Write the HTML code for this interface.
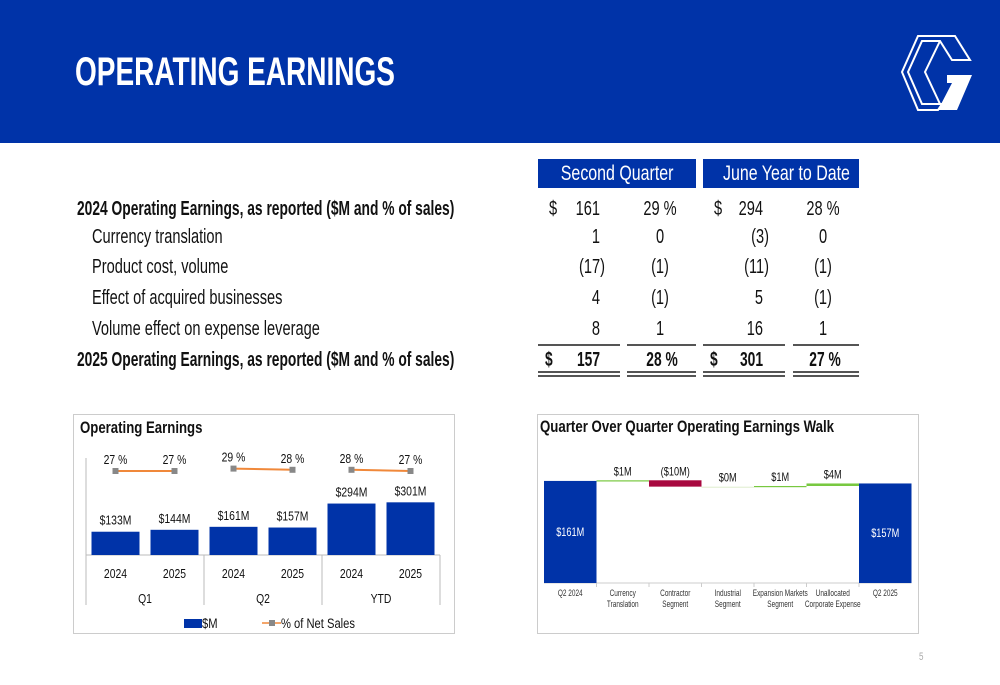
<!DOCTYPE html>
<html><head><meta charset="utf-8">
<style>
*{margin:0;padding:0;box-sizing:border-box}
body{width:1000px;height:685px;background:#fff;position:relative;overflow:hidden;font-family:"Liberation Sans",sans-serif;color:#111}
.hdr{position:absolute;left:0;top:0;width:1000px;height:143px;background:#0033a8}
.title{position:absolute;left:75px;top:50px;font-size:40px;font-weight:bold;color:#fff;transform:scaleX(0.70);transform-origin:left;white-space:nowrap}
.t{position:absolute;font-size:20px;white-space:nowrap;line-height:20px;transform:scaleX(.73);transform-origin:left}
.b{font-weight:bold;transform:scaleX(.69)}
.r{text-align:right;transform-origin:right}
.c{text-align:center;transform-origin:center}
.hbox{position:absolute;top:159px;height:29px;background:#0033a8;color:#fff;font-size:21px;text-align:center;line-height:29px;overflow:hidden;white-space:nowrap}
.hbox span{display:inline-block;transform:scaleX(.76)}
.ln{position:absolute;height:2px;background:#555}
.box{position:absolute;border:1px solid #ccc}
</style></head><body>
<div class="hdr"></div>
<div class="title">OPERATING EARNINGS</div>
<svg style="position:absolute;left:900px;top:33px" width="75" height="78" viewBox="0 0 75 78">
<g fill="none" stroke="#fff" stroke-width="2">
<polygon points="18,3 55,3 70,27 52,27 40,8 22,8 8,39 22,71 42,71 38,77 18,77 2,39"/>
<polyline points="40,8 25,39 40,71"/>
</g>
<polygon points="47,42 72,42 57,77 38,77 52,50 47,50" fill="#fff"/>
</svg>

<div class="hbox" style="left:538px;width:158px"><span>Second Quarter</span></div>
<div class="hbox" style="left:703px;width:156px"><span>June Year to Date</span></div>

<div>
<div class="t b" style="left:77px;top:199px">2024 Operating Earnings, as reported ($M and % of sales)</div>
<div class="t" style="left:92px;top:227px">Currency translation</div>
<div class="t" style="left:92px;top:257px">Product cost, volume</div>
<div class="t" style="left:92px;top:288px">Effect of acquired businesses</div>
<div class="t" style="left:92px;top:319px">Volume effect on expense leverage</div>
<div class="t b" style="left:77px;top:350px">2025 Operating Earnings, as reported ($M and % of sales)</div>

<div class="t" style="left:549px;top:199px">$</div>
<div class="t" style="left:714px;top:199px">$</div>
<div class="t b" style="left:545px;top:350px">$</div>
<div class="t b" style="left:710px;top:350px">$</div>

<div class="t r" style="left:540px;width:60px;top:199px">161</div>
<div class="t r" style="left:540px;width:60px;top:227px">1</div>
<div class="t r" style="left:540px;width:65px;top:257px">(17)</div>
<div class="t r" style="left:540px;width:60px;top:288px">4</div>
<div class="t r" style="left:540px;width:60px;top:319px">8</div>
<div class="t r b" style="left:540px;width:60px;top:350px">157</div>

<div class="t c" style="left:630px;width:60px;top:199px">29 %</div>
<div class="t c" style="left:630px;width:60px;top:227px">0</div>
<div class="t c" style="left:630px;width:60px;top:257px">(1)</div>
<div class="t c" style="left:630px;width:60px;top:288px">(1)</div>
<div class="t c" style="left:630px;width:60px;top:319px">1</div>
<div class="t c b" style="left:632px;width:60px;top:350px">28 %</div>

<div class="t r" style="left:700px;width:63px;top:199px">294</div>
<div class="t r" style="left:700px;width:69px;top:227px">(3)</div>
<div class="t r" style="left:700px;width:69px;top:257px">(11)</div>
<div class="t r" style="left:700px;width:63px;top:288px">5</div>
<div class="t r" style="left:700px;width:63px;top:319px">16</div>
<div class="t r b" style="left:700px;width:63px;top:350px">301</div>

<div class="t c" style="left:793px;width:60px;top:199px">28 %</div>
<div class="t c" style="left:793px;width:60px;top:227px">0</div>
<div class="t c" style="left:793px;width:60px;top:257px">(1)</div>
<div class="t c" style="left:793px;width:60px;top:288px">(1)</div>
<div class="t c" style="left:793px;width:60px;top:319px">1</div>
<div class="t c b" style="left:795px;width:60px;top:350px">27 %</div>

<div class="ln" style="left:538px;width:82px;top:344px"></div>
<div class="ln" style="left:627px;width:69px;top:344px"></div>
<div class="ln" style="left:703px;width:82px;top:344px"></div>
<div class="ln" style="left:793px;width:66px;top:344px"></div>
<div class="ln" style="left:538px;width:82px;top:371px"></div>
<div class="ln" style="left:627px;width:69px;top:371px"></div>
<div class="ln" style="left:703px;width:82px;top:371px"></div>
<div class="ln" style="left:793px;width:66px;top:371px"></div>
<div class="ln" style="left:538px;width:82px;top:375px"></div>
<div class="ln" style="left:627px;width:69px;top:375px"></div>
<div class="ln" style="left:703px;width:82px;top:375px"></div>
<div class="ln" style="left:793px;width:66px;top:375px"></div>
</div>

<div class="box" style="left:73px;top:414px;width:382px;height:220px"></div>
<svg id="c1" style="position:absolute;left:0;top:0" width="1000" height="685"></svg>
<div class="box" style="left:537px;top:414px;width:382px;height:220px"></div>
<svg id="c2" style="position:absolute;left:0;top:0" width="1000" height="685"></svg>

<div class="t" style="left:919px;top:647px;font-size:11px;color:#aaa">5</div>

<script>
const years=["2024","2025","2024","2025","2024","2025"];
const groups=["Q1","Q2","YTD"];
const earnings=[133,144,161,157,294,301];
const pctSales=[27,27,29,28,28,27];

const walkCats=[["Q2 2024"],["Currency","Translation"],["Contractor","Segment"],["Industrial","Segment"],["Expansion Markets","Segment"],["Unallocated","Corporate Expense"],["Q2 2025"]];
const walkVals=[161,1,-10,0,1,4,157];
const walkLabels=["$161M","$1M","($10M)","$0M","$1M","$4M","$157M"];

const NS="http://www.w3.org/2000/svg";
function mk(svg,tag,at,txt){const e=document.createElementNS(NS,tag);for(const k in at)e.setAttribute(k,at[k]);if(txt!==undefined)e.textContent=txt;svg.appendChild(e);return e;}
function tx(svg,x,y,str,at,sx){const a=Object.assign({x:0,y:0,fill:'#111'},at);a.transform='translate('+x+','+y+') scale('+(sx||0.8)+',1)';return mk(svg,'text',a,str);}

// chart 1
(function(){
const s=document.getElementById('c1');
const base=555,x0=86,step=59,bw=48;
const y=v=>base-v*0.175;
const xc=i=>x0+step*i+step/2;
const py=p=>471-(p-27)*1.2;
let t=tx(s,80,433,'Operating Earnings',{'font-size':16.5,'font-weight':'bold'},0.8);


let l=mk(s,'line',{x1:x0,y1:base,x2:x0+step*6,y2:base,stroke:'#bbb'});


[0,2,4,6].forEach(k=>{const e=mk(s,'line',{x1:x0+step*k,y1:k==0?458:base,x2:x0+step*k,y2:605,stroke:'#bbb'});

});
earnings.forEach((v,i)=>{
 const r=mk(s,'rect',{x:xc(i)-bw/2,y:y(v),width:bw,height:base-y(v),fill:'#0033a8'});
 
 
 const tl=tx(s,xc(i),y(v)-7,'$'+v+'M',{'font-size':13,'text-anchor':'middle'});
 
 
 const yl=tx(s,xc(i),578,years[i],{'font-size':13,'text-anchor':'middle'});
 
 
});
groups.forEach((g,k)=>{const e=tx(s,x0+step*(2*k+1),603,g,{'font-size':13,'text-anchor':'middle'});

});
for(let k=0;k<3;k++){const a=2*k,b=a+1;
 const e=mk(s,'line',{x1:xc(a),y1:py(pctSales[a]),x2:xc(b),y2:py(pctSales[b]),stroke:'#f0883a','stroke-width':2});
 
 }
pctSales.forEach((p,i)=>{
 const m=mk(s,'rect',{x:xc(i)-3,y:py(p)-3,width:6,height:6,fill:'#888'});
 
 
 const tl=tx(s,xc(i),py(p)-7,p+' %',{'font-size':13,'text-anchor':'middle'});
 
 
});
const g=mk(s,'g',{});


mk(g,'rect',{x:184,y:619,width:18,height:9,fill:'#0033a8'});
tx(g,202,628,'$M',{'font-size':14});
mk(g,'line',{x1:262,y1:623,x2:281,y2:623,stroke:'#f0883a','stroke-width':1.5});
mk(g,'rect',{x:269,y:620,width:6,height:6,fill:'#888'});
tx(g,281,628,'% of Net Sales',{'font-size':14});
})();

// chart 2
(function(){
const s=document.getElementById('c2');
const base=583,x0=544,step=52.5,bw=52.5;
const y=v=>base-v*0.634;
const xc=i=>x0+step*i+step/2;
let t=tx(s,540,432,'Quarter Over Quarter Operating Earnings Walk',{'font-size':17,'font-weight':'bold'},0.78);


let l=mk(s,'line',{x1:x0,y1:base,x2:x0+step*7,y2:base,stroke:'#ccc'});


let run=0;
walkVals.forEach((v,i)=>{
 let top,h,fill;
 const last=i===walkVals.length-1;
 if(i===0||last){top=y(v);h=base-top;fill='#0033a8';run=v;}
 else{const a=run,b=run+v;top=y(Math.max(a,b));h=Math.max(Math.abs(v)*0.634,1.2);
  fill=v<0?'#a8083f':(v===0?'#e4f0d6':'#78c840');run=b;}
 const r=mk(s,'rect',{x:xc(i)-bw/2,y:top,width:bw,height:h,fill:fill});
 
 
 const tl=(i===0||last)?tx(s,xc(i),top+h/2+4,walkLabels[i],{'font-size':11.5,'text-anchor':'middle',fill:'#fff'})
   :tx(s,xc(i),top-5,walkLabels[i],{'font-size':11.5,'text-anchor':'middle'});
 
 
 walkCats[i].forEach((w,j)=>{const c=tx(s,xc(i),596+j*11,w,{'font-size':9,'text-anchor':'middle',fill:'#333'},0.72);
 
 });
 if(i>0){const tk=mk(s,'line',{x1:x0+step*i,y1:base,x2:x0+step*i,y2:base+4,stroke:'#ccc'});
 
 }
});
})();
</script>
</body></html>
